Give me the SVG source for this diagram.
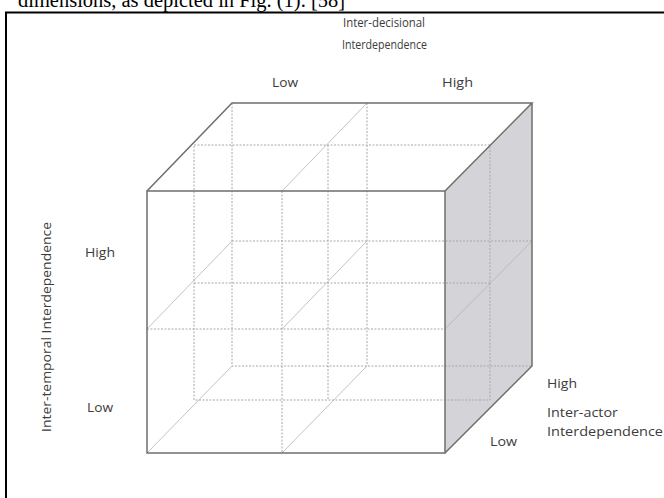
<svg xmlns="http://www.w3.org/2000/svg" width="664" height="498" viewBox="0 0 664 498">
  <style>
    .lbl { font-family: "Open Sans", "Liberation Sans", sans-serif; fill: #3c3c3c; }
    .cap { font-family: "Liberation Serif", serif; fill: #000; font-size: 20px; }
    .edge { fill: none; stroke: #6e6e6e; stroke-width: 1.5; }
    .dot { fill: none; stroke: #a8a8a8; stroke-width: 1; stroke-dasharray: 2 1.5; }
    .thin { fill: none; stroke: #b4b4b4; stroke-width: 0.8; }
  </style>
  <rect width="664" height="498" fill="#ffffff"/>
  <text class="cap" x="18" y="7" textLength="327" lengthAdjust="spacingAndGlyphs">dimensions, as depicted in Fig. (1). [58]</text>
  <rect x="6" y="12.5" width="670" height="500" fill="none" stroke="#000" stroke-width="2"/>

  <g id="cube">
    <polygon id="right-face" points="445,191 532,103 532,366 445,453" fill="#d4d4d8"/>
    <rect id="front-face" x="147" y="191" width="298" height="262" fill="#ffffff"/>
  </g>

  <g id="connectors">
    <path class="dot" d="M232,103 V366 H532 M367,103 V366 M232,241 H532"/>
    <path class="dot" d="M194,145 H490 V400 H194 Z M328,145 V400 M194,283 H490"/>
    <path class="thin" d="M147,329 L232,241 M282,191 L367,103 M282,329 L367,241 M147,453 L232,366 M282,453 L367,366 M445,329 L532,241"/>
    <path class="dot" d="M282,191 V453 M147,329 H445"/>
    <path class="edge" d="M147,191 L232,103 H532 L445,191 M532,103 V366 L445,453"/>
    <rect class="edge" x="147" y="191" width="298" height="262"/>
  </g>

  <g id="label-top">
    <text class="lbl" x="343" y="27" font-size="12.5" textLength="82" lengthAdjust="spacingAndGlyphs">Inter-decisional</text>
    <text class="lbl" x="342" y="49" font-size="12.5" textLength="85" lengthAdjust="spacingAndGlyphs">Interdependence</text>
    <text class="lbl" x="272" y="87" font-size="12" textLength="26" lengthAdjust="spacingAndGlyphs">Low</text>
    <text class="lbl" x="442" y="87" font-size="12" textLength="31" lengthAdjust="spacingAndGlyphs">High</text>
  </g>
  <g id="label-left">
    <text class="lbl" x="0" y="0" font-size="12" text-anchor="middle" textLength="210" lengthAdjust="spacingAndGlyphs" transform="translate(51,327) rotate(-90)">Inter-temporal Interdependence</text>
    <text class="lbl" x="85" y="257" font-size="12" textLength="30" lengthAdjust="spacingAndGlyphs">High</text>
    <text class="lbl" x="87" y="412" font-size="12" textLength="26" lengthAdjust="spacingAndGlyphs">Low</text>
  </g>
  <g id="label-right">
    <text class="lbl" x="547" y="388" font-size="13" textLength="30" lengthAdjust="spacingAndGlyphs">High</text>
    <text class="lbl" x="547" y="417" font-size="13" textLength="71" lengthAdjust="spacingAndGlyphs">Inter-actor</text>
    <text class="lbl" x="547" y="436" font-size="13" textLength="116" lengthAdjust="spacingAndGlyphs">Interdependence</text>
    <text class="lbl" x="490" y="446" font-size="13" textLength="27" lengthAdjust="spacingAndGlyphs">Low</text>
  </g>
</svg>
